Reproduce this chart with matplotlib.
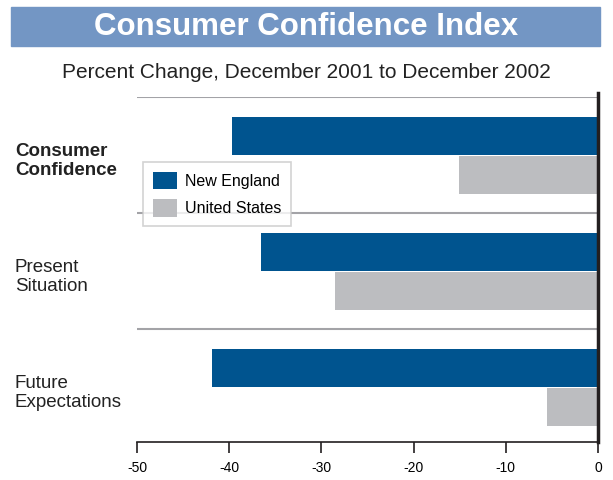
import matplotlib.pyplot as plt
from matplotlib.patches import Rectangle

plt.rcParams['font.family'] = ['Liberation Sans', 'DejaVu Sans']

categories = ["Consumer\nConfidence", "Present\nSituation", "Future\nExpectations"]
new_england = [-39.7, -36.6, -41.9]
united_states = [-15.1, -28.5, -5.5]
xticks = [-50, -40, -30, -20, -10, 0]

blue = '#00548f'
gray = '#bcbdc0'

fig = plt.figure(figsize=(6.13, 4.8), dpi=100)

# title banner
fig.patches.append(Rectangle((11 / 613, 1 - 46 / 480), 589 / 613, 39 / 480,
                             transform=fig.transFigure, color='#7396c4', zorder=0))
fig.text(306 / 613, 1 - 27 / 480, "Consumer Confidence Index", color='white',
         fontsize=22.5, fontweight='bold', ha='center', va='center')
fig.text(306 / 613, 1 - 72 / 480, "Percent Change, December 2001 to December 2002",
         fontsize=15, ha='center', va='center', color='#222222')

ax = fig.add_axes([137 / 613, 1 - 442 / 480, 461 / 613, 345 / 480])
h = 0.33
pos = range(len(categories))
ax.barh([p - h / 2 for p in pos], new_england, height=h, color=blue, label='New England')
ax.barh([p + h / 2 + 0.01 for p in pos], united_states, height=h, color=gray, label='United States')

ax.set_xlim(-50, 0)
ax.set_ylim(2.475, -0.5)
for y in [-0.5, 0.5, 1.5]:
    ax.axhline(y, color='#a3a3a7', lw=1.5, zorder=0)

for s in ['top', 'left']:
    ax.spines[s].set_visible(False)
ax.spines['right'].set_color('#231f20')
ax.spines['right'].set_linewidth(2.5)
ax.spines['right'].set_bounds(2.475, -0.535)
ax.spines['bottom'].set_color('#231f20')
ax.spines['bottom'].set_linewidth(1.2)

ax.set_xticks(xticks)
ax.set_xticklabels([str(t) for t in xticks])
ax.tick_params(axis='x', direction='out', length=8, width=1.2, color='#231f20',
               labelsize=10, pad=6)
ax.set_yticks([])

for i, c in enumerate(categories):
    fig.text(15 / 613, 1 - (161 + 116 * i) / 480, c, fontsize=13.5, ha='left', va='center',
             fontweight='bold' if i == 0 else 'normal', color='#222222', linespacing=1.15)

leg = ax.legend(loc='upper left', bbox_to_anchor=(6 / 461, 1 - 65 / 345), frameon=True,
                fancybox=False, fontsize=11.5, handlelength=1.5, handleheight=1.3,
                borderpad=0.6, labelspacing=0.65, handletextpad=0.55, borderaxespad=0)
leg.get_frame().set_edgecolor('#c8c8c8')
leg.get_frame().set_linewidth(1.2)

plt.savefig('out.png', dpi=100)
